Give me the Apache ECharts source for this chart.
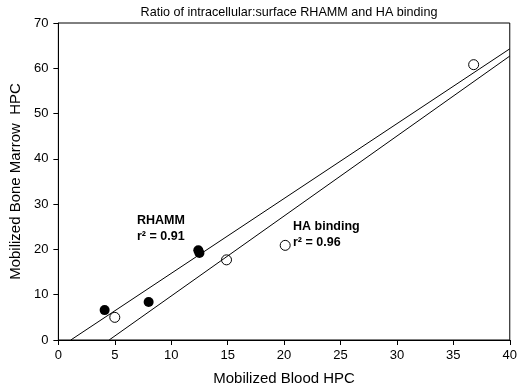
<!DOCTYPE html>
<html>
<head>
<meta charset="utf-8">
<script src="https://cdn.jsdelivr.net/npm/echarts@6/dist/echarts.min.js"></script>
<style>
  html, body { margin: 0; padding: 0; background: #fff; }
  #main { width: 520px; height: 391px; }
</style>
</head>
<body>
<div id="main"></div>
<script>
// data
var rhammPoints = [[4.1, 6.6], [8.0, 8.4], [12.4, 19.8], [12.5, 19.2]];
var haPoints = [[5.0, 5.0], [14.9, 17.7], [20.1, 20.9], [36.8, 60.8]];
var rhammFit = [[1.1, 0], [40, 64.3]];
var haFit = [[4.5, 0], [40, 62.7]];

var fontName = 'Liberation Sans';

var myChart = echarts.init(document.getElementById('main'));

// bold label style for the r^2 notes
var noteStyle = { fontSize: 12.5, fontWeight: 'bold', fill: '#000', fontFamily: fontName, lineHeight: 16 };

var option = {
    animation: false,
    textStyle: { fontFamily: fontName },
    title: {
        text: 'Ratio of intracellular:surface RHAMM and HA binding',
        left: 284,
        textAlign: 'center',
        top: 1,
        textStyle: { fontSize: 12.6, fontWeight: 'normal', color: '#000', fontFamily: fontName }
    },
    grid: {
        left: 54, right: 8, top: 23, bottom: 47,
        show: true, borderColor: '#000', borderWidth: 1
    },
    xAxis: {
        type: 'value',
        min: 0, max: 40, interval: 5,
        name: 'Mobilized Blood HPC',
        nameLocation: 'middle',
        nameGap: 31,
        nameTextStyle: { fontSize: 15, color: '#000' },
        splitLine: { show: false },
        axisLine: { lineStyle: { color: '#000' } },
        axisTick: { length: 5, lineStyle: { color: '#000' } },
        axisLabel: { fontSize: 13, color: '#000', margin: 9 }
    },
    yAxis: {
        type: 'value',
        min: 0, max: 70, interval: 10,
        name: 'Mobilized Bone Marrow  HPC',
        nameLocation: 'middle',
        nameGap: 32,
        nameTextStyle: { fontSize: 15, color: '#000' },
        splitLine: { show: false },
        axisLine: { lineStyle: { color: '#000' } },
        axisTick: { length: 5, lineStyle: { color: '#000' } },
        axisLabel: { fontSize: 13, color: '#000', margin: 10 }
    },
    series: [
        {
            type: 'line',
            data: rhammFit,
            symbol: 'none',
            lineStyle: { color: '#000', width: 1 }
        },
        {
            type: 'line',
            data: haFit,
            symbol: 'none',
            lineStyle: { color: '#000', width: 1 }
        },
        {
            type: 'scatter',
            data: rhammPoints,
            symbolSize: 10,
            itemStyle: { color: '#000', opacity: 1 }
        },
        {
            type: 'scatter',
            data: haPoints,
            symbolSize: 10,
            itemStyle: { color: '#fff', borderColor: '#000', borderWidth: 1, opacity: 1 }
        }
    ],
    graphic: [
        {
            type: 'text', left: 137, top: 213,
            style: Object.assign({ text: 'RHAMM\nr² = 0.91' }, noteStyle)
        },
        {
            type: 'text', left: 293, top: 219,
            style: Object.assign({ text: 'HA binding\nr² = 0.96' }, noteStyle)
        }
    ]
};

myChart.setOption(option);
</script>
</body>
</html>
